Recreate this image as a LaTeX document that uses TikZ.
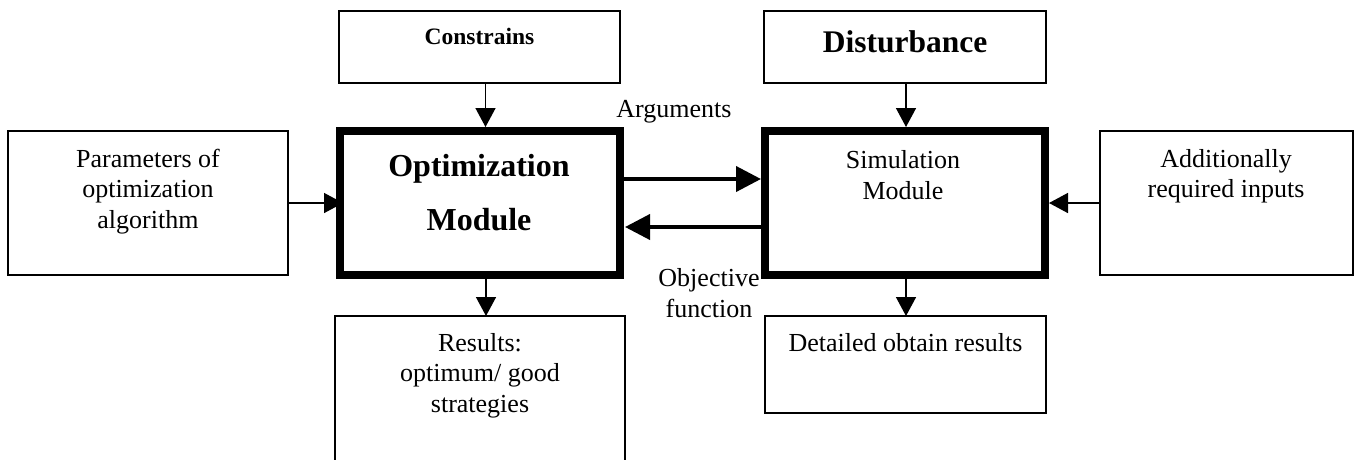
\documentclass[tikz,border=0pt]{standalone}
\usepackage{fontspec}
\setmainfont{Liberation Serif}
\usetikzlibrary{arrows.meta}
\begin{document}
\begin{tikzpicture}[x=1pt,y=-1pt,
  thinbox/.style={draw, line width=1.5pt, rectangle, inner sep=0pt, outer sep=0pt},
  modbox/.style={draw, line width=8pt, rectangle, inner sep=0pt, outer sep=0pt},
  txt/.style={inner sep=0pt, anchor=base, align=center, font=\fontsize{26}{30.5}\selectfont},
  flow/.style={line width=1.5pt, -{Triangle[length=19pt,width=20pt]}},
  bigflow/.style={line width=4pt, -{Triangle[length=25pt,width=25pt]}}
]
\useasboundingbox (0,0) rectangle (1359,459);
\fill[white] (0,0) rectangle (1359,459);
\clip (0,0) rectangle (1359,459);

% boxes
\node[thinbox, minimum width=281pt, minimum height=72pt]  (cons) at (479.5,47) {};
\node[thinbox, minimum width=282pt, minimum height=72pt]  (dist) at (905,47) {};
\node[thinbox, minimum width=280pt, minimum height=144pt] (par)  at (148,203) {};
\node[modbox,  minimum width=280pt, minimum height=144pt] (opt)  at (480,203) {};
\node[modbox,  minimum width=280pt, minimum height=144pt] (sim)  at (905,203) {};
\node[thinbox, minimum width=253pt, minimum height=144pt] (add)  at (1226.5,203) {};
\node[thinbox, minimum width=290pt, minimum height=174pt] (res)  at (480,403) {};
\node[thinbox, minimum width=281pt, minimum height=97pt]  (det)  at (905.5,364.5) {};

% box texts (multi-line nodes are placed by the baseline of their last line)
\node[txt, font=\fontsize{23.5}{28}\selectfont\bfseries] (consT) at (479.5,44) {Constrains};
\node[txt, font=\fontsize{31.5}{36}\selectfont\bfseries] (distT) at (905,52.3) {Disturbance};
\node[txt] (parT) at (148,228) {Parameters of\\optimization\\algorithm};
\node[txt, font=\fontsize{32}{54}\selectfont\bfseries] (optT) at (479,230) {Optimization\\Module};
\node[txt, font=\fontsize{26}{31}\selectfont] (simT) at (903,199) {Simulation\\Module};
\node[txt] (addT) at (1226,197.5) {Additionally\\required inputs};
\node[txt] (resT) at (480,412) {Results:\\optimum/ good\\strategies};
\node[txt] (detT) at (905.5,351) {Detailed obtain results};

% connector labels
\node[txt] (argT) at (674,117) {Arguments};
\node[txt] (objT) at (709,317) {Objective\\function};

% connectors
\draw[flow, shorten >=4pt] ([xshift=6pt]cons.south) -- ([xshift=6pt]cons.south |- opt.north);
\draw[flow, shorten >=4pt] ([xshift=1pt]dist.south) -- ([xshift=1pt]dist.south |- sim.north);
\draw[flow, shorten <=4pt] ([xshift=6pt]opt.south) -- ([xshift=6pt]opt.south |- res.north);
\draw[flow, shorten <=4pt] ([xshift=1pt]sim.south) -- ([xshift=1pt]sim.south |- det.north);
\draw[flow, shorten >=-3pt] (par.east) -- (par.east -| opt.west);
\draw[flow, shorten >=4pt] (add.west) -- (add.west -| sim.east);
\draw[bigflow, shorten <=4pt, shorten >=4pt] ([yshift=24pt]opt.east) -- ([yshift=24pt]opt.east -| sim.west);
\draw[bigflow, shorten <=4pt, shorten >=5pt] ([yshift=-24pt]sim.west) -- ([yshift=-24pt]sim.west -| opt.east);
\end{tikzpicture}
\end{document}
